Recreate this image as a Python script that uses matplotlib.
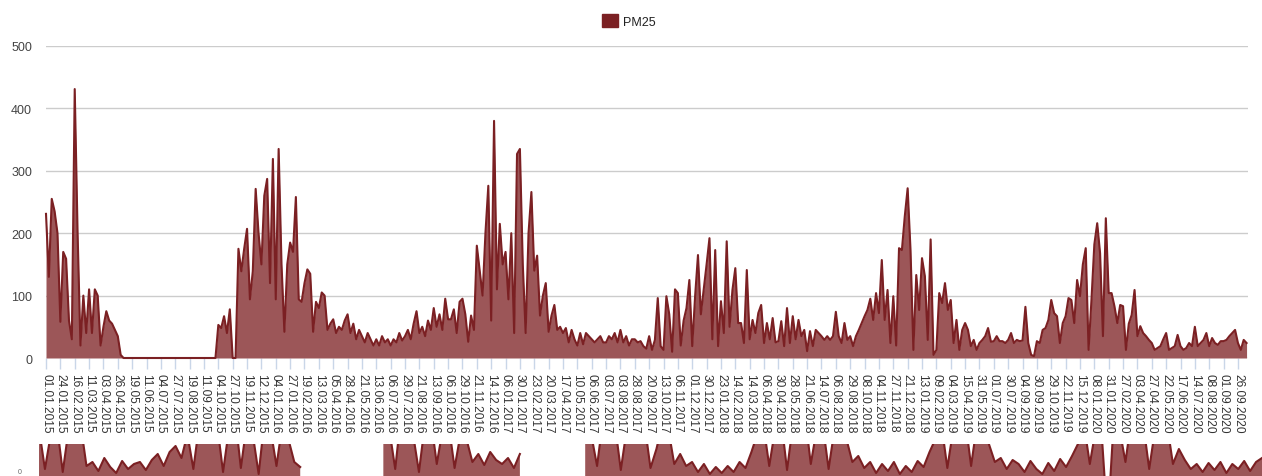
import numpy as np
import matplotlib.pyplot as plt
from matplotlib.patches import Patch

# x axis labels, one per tick
ticks_2015 = ['01.01.2015', '24.01.2015', '16.02.2015', '11.03.2015', '03.04.2015', '26.04.2015',
              '19.05.2015', '11.06.2015', '04.07.2015', '27.07.2015', '19.08.2015', '11.09.2015',
              '04.10.2015', '27.10.2015', '19.11.2015', '12.12.2015']
ticks_2016 = ['04.01.2016', '27.01.2016', '19.02.2016', '13.03.2016', '05.04.2016', '28.04.2016',
              '21.05.2016', '13.06.2016', '06.07.2016', '29.07.2016', '21.08.2016', '13.09.2016',
              '06.10.2016', '29.10.2016', '21.11.2016', '14.12.2016']
ticks_2017 = ['06.01.2017', '30.01.2017', '23.02.2017', '20.03.2017', '17.04.2017', '10.05.2017',
              '06.06.2017', '03.07.2017', '03.08.2017', '28.08.2017', '20.09.2017', '13.10.2017',
              '06.11.2017', '01.12.2017', '30.12.2017']
ticks_2018 = ['23.01.2018', '14.02.2018', '14.03.2018', '06.04.2018', '30.04.2018', '28.05.2018',
              '21.06.2018', '14.07.2018', '06.08.2018', '29.08.2018', '08.10.2018', '04.11.2018',
              '27.11.2018', '21.12.2018']
ticks_2019 = ['13.01.2019', '09.02.2019', '04.03.2019', '15.04.2019', '31.05.2019', '01.07.2019',
              '30.07.2019', '04.09.2019', '30.09.2019', '29.10.2019', '22.11.2019', '15.12.2019']
ticks_2020 = ['08.01.2020', '31.01.2020', '27.02.2020', '03.04.2020', '27.04.2020', '22.05.2020',
              '17.06.2020', '14.07.2020', '08.08.2020', '01.09.2020', '26.09.2020']

# PM25 readings, 5 per tick interval
pm25_2015 = [231, 130, 255, 235, 200,  58, 170, 159, 60, 30,  431, 200, 20, 100, 40,
             110, 40, 110, 100, 20,  50, 75, 60, 55, 45,  35, 5, 0, 0, 0,
             0, 0, 0, 0, 0,  0, 0, 0, 0, 0,  0, 0, 0, 0, 0,
             0, 0, 0, 0, 0,  0, 0, 0, 0, 0,  0, 0, 0, 0, 0,
             53, 48, 67, 40, 78,  0, 0, 175, 139, 175,  207, 94, 139, 271, 200,
             150, 260, 287, 120, 319]
pm25_2016 = [94, 335, 150, 42, 150,  185, 170, 258, 94, 90,  120, 142, 135, 42, 90,
             80, 105, 100, 45, 55,  62, 40, 50, 45, 60,  70, 40, 55, 30, 45,
             35, 25, 40, 30, 20,  30, 20, 35, 25, 30,  20, 30, 25, 40, 28,
             35, 45, 30, 55, 75,  40, 50, 35, 60, 45,  80, 50, 70, 45, 95,
             62, 62, 78, 40, 90,  95, 70, 26, 68, 45,  180, 140, 100, 200, 276,
             60, 380, 110, 215, 150]
pm25_2017 = [170, 94, 200, 40, 327,  335, 150, 40, 200, 266,  140, 164, 68, 100, 120,
             42, 68, 85, 45, 50,  40, 48, 25, 45, 30,  20, 40, 22, 40, 35,
             30, 25, 30, 35, 25,  25, 35, 30, 40, 25,  45, 25, 35, 20, 30,
             30, 25, 27, 19, 15,  35, 13, 29, 96, 19,  13, 99, 70, 10, 110,
             104, 20, 60, 80, 125,  19, 99, 165, 70, 110,  150, 192, 30, 173, 19]
pm25_2018 = [91, 40, 187, 50, 109,  144, 56, 56, 24, 141,  30, 61, 40, 72, 85,
             24, 56, 30, 64, 25,  27, 59, 19, 80, 24,  67, 30, 61, 35, 45,
             11, 43, 19, 45, 40,  35, 29, 35, 29, 35,  74, 35, 24, 56, 29,
             35, 19, 35, 45, 56,  67, 77, 95, 61, 104,  72, 157, 61, 109, 24,
             99, 20, 176, 173, 227,  272, 173, 13, 133, 77]
pm25_2019 = [160, 131, 29, 190, 5,  13, 104, 88, 120, 77,  93, 24, 61, 13, 45,
             56, 45, 19, 29, 13,  24, 29, 35, 48, 26,  27, 35, 27, 27, 24,
             29, 40, 24, 29, 27,  28, 82, 24, 5, 3,  27, 24, 45, 48, 61,
             93, 72, 67, 24, 56,  67, 96, 93, 56, 125,  99, 150, 176, 13, 93]
pm25_2020 = [182, 216, 168, 35, 224,  104, 104, 83, 56, 85,  83, 13, 55, 69, 109,
             35, 51, 40, 35, 29,  24, 13, 16, 19, 30,  40, 13, 16, 19, 37,
             19, 13, 16, 24, 19,  50, 19, 24, 29, 40,  19, 32, 24, 21, 27,
             27, 29, 35, 40, 45,  24, 13, 29, 24]

# the next chart on the page, only its lower strip is visible
lower_vals = [95, 55, 90, 100, 52, 95, 85, 100, 58,
              62, 53, 66, 57, 51, 63, 55, 60,
              62, 54, 64,
              70, 58, 72, 78, 66,
              90, 55, 100, 85, 95,
              100, 52, 95, 110, 56, 100, 90, 50, 105, 95, 58, 100, 85,
              62, 57,
              None, None, None, None, None, None, None, None, None, None, None, None, None,
              100, 95, 55, 110, 100, 90, 52, 100, 105, 60, 95, 100, 56, 90, 85, 62,
              70, 59, 72, 64, 60,
              66, 56, 70,
              None, None, None, None, None, None, None, None, None, None,
              100, 90, 58, 105, 95, 100, 54, 95, 110, 85, 100, 56, 75, 100, 95, 60,
              70, 58, 62, 52, 60, 50, 57, 51, 58, 52, 62, 56, 72,
              90, 100, 58, 95, 105, 54, 100, 90, 110, 60, 95, 100, 55, 95, 100, 85, 62,
              68, 56, 62, 51, 60, 53, 62, 50, 58, 52, 63, 57, 72,
              85, 100, 56, 95, 90, 105, 58, 100, 90, 80, 62,
              66, 55, 64,
              60, 52, 63, 55, 50, 61, 53, 65, 57, 68,
              80, 100, 60, 95, 90,
              0,
              100, 95, 62, 105, 90, 100, 55, 95, 85, 100, 60, 75,
              64, 55, 60, 52, 61, 54, 62, 51, 60, 55, 63, 53, 62, 66]

line_col = '#7b2023'
fill_col = '#9c5658'

plt.rcParams['font.family'] = ['Liberation Sans', 'DejaVu Sans']

W, H = 1262, 477
fig = plt.figure(figsize=(W / 100, H / 100), dpi=100)

ax = fig.add_axes([46 / W, 1 - 359 / H, 1202 / W, 312 / H])
pm25 = np.array(pm25_2015 + pm25_2016 + pm25_2017 + pm25_2018 + pm25_2019 + pm25_2020, dtype=float)
x = np.arange(len(pm25)) / 5
ax.fill_between(x, pm25, color=fill_col, lw=0, zorder=2)
ax.plot(x, pm25, color=line_col, lw=1.5, clip_on=False, zorder=3)

labels = ticks_2015 + ticks_2016 + ticks_2017 + ticks_2018 + ticks_2019 + ticks_2020
ax.set_xticks(range(len(labels)))
ax.set_xticklabels(labels, rotation=-90, fontsize=8.6, color='#333333')
ax.tick_params(axis='x', length=8, width=1, color='#c9d6e8', pad=3)
ax.set_xlim(0, 83.7)

ax.set_ylim(0, 500)
ax.set_yticks([0, 100, 200, 300, 400, 500])
ax.tick_params(axis='y', length=0, pad=10, labelsize=9, labelcolor='#444444')
ax.yaxis.grid(True, color='#cccccc', lw=1)
ax.set_axisbelow(True)
for s in ax.spines.values():
    s.set_visible(False)

fig.legend(handles=[Patch(facecolor=line_col, edgecolor=line_col)], labels=['PM25'],
           loc='center left', bbox_to_anchor=(602 / W, 1 - 22 / H), frameon=False,
           handlelength=1.25, handleheight=1.25, handletextpad=0.45, borderpad=0,
           borderaxespad=0, prop={'size': 9}, labelcolor='#222222')

# lower chart, cut by the bottom edge
ax2 = fig.add_axes([39 / W, 1 - 525 / H, 1223 / W, 80 / H])
low = np.array([np.nan if v is None else v for v in lower_vals], dtype=float)
xl = np.arange(len(low))
ax2.fill_between(xl, low, where=~np.isnan(low), color=fill_col, lw=0)
ax2.plot(xl, low, color=line_col, lw=1.5)
ax2.set_xlim(0, len(low) - 1)
ax2.set_ylim(0, 80)
ax2.axis('off')
fig.text(20 / W, 1 - 476 / H, '0', fontsize=5, color='#666666', va='bottom', ha='center')

fig.savefig('out.png', dpi=100)
